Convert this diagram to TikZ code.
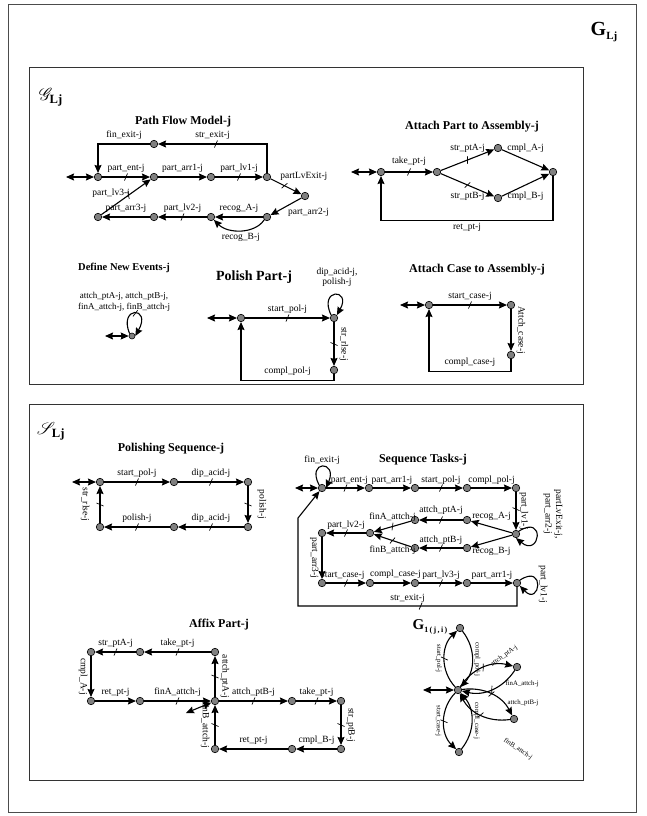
\documentclass[tikz,border=0pt]{standalone}
\usepackage{fontspec}
\setmainfont{Liberation Serif}
\usepackage{mathrsfs}
\usetikzlibrary{arrows.meta,decorations.markings}

\begin{document}
\begin{tikzpicture}[x=1pt, y=1pt,
  st/.style={circle, draw, fill=gray, line width=0.6pt, inner sep=0pt, minimum size=7.5pt},
  ev/.style={-{Stealth[length=8pt,width=7pt,inset=1pt]}, line width=1.1pt},
  ini/.style={{Stealth[length=8pt,width=7pt,inset=1pt]}-{Stealth[length=8pt,width=7pt,inset=1pt]}, line width=1.1pt},
  lb/.style={font=\fontsize{9.5}{10.5}\selectfont, inner sep=1.5pt},
  sm/.style={font=\fontsize{6.8}{7.5}\selectfont, inner sep=1pt},
  ttl/.style={font=\bfseries\fontsize{12}{14}\selectfont},
  rl/.style={lb, rotate=-90, anchor=south, inner sep=5pt},
  ll/.style={lb, rotate=-90, anchor=north, inner sep=5pt},
  ctrl/.style={postaction={decorate, decoration={markings, mark=at position #1 with {\draw[-, line width=0.7pt] (-1.5pt,-3.5pt) -- (1.5pt,3.5pt);}}}},
  ctrl/.default=0.5
]
\useasboundingbox (0,0) rectangle (646,-816);
% frames
\draw[line width=0.8pt, black!70] (8,-4) rectangle (636,-812);
\draw[line width=0.8pt, black!80] (29,-67) rectangle (583,-384);
\draw[line width=0.8pt, black!80] (29,-404) rectangle (583,-780);
\node[font=\bfseries\fontsize{20}{22}\selectfont] (glj) at (604,-32) {G\raisebox{-0.35ex}{\fontsize{11}{11}\selectfont Lj}};
\node[font=\fontsize{18}{19}\selectfont] (scg) at (51,-97) {$\mathscr{G}_{\mathbf{Lj}}$};
\node[font=\fontsize{18}{19}\selectfont] (scs) at (51,-431) {$\mathscr{S}_{\mathbf{Lj}}$};

% Path Flow Model
\node[ttl] (pftitle) at (183,-122) {Path Flow Model-j};
\node[st] (pf0) at (98,-177) {};
\node[st] (pf1) at (154,-177) {};
\node[st] (pf2) at (211,-177) {};
\node[st] (pf3) at (267,-177) {};
\node[st] (pf4) at (305,-196) {};
\node[st] (pf5) at (267,-217) {};
\node[st] (pf6) at (211,-217) {};
\node[st] (pf7) at (154,-217) {};
\node[st] (pf8) at (98,-217) {};
\node[st] (pf9) at (154,-144) {};
\coordinate (pfin) at (66,-177);
\draw[ini] (pfin) -- (pf0);
\draw[ev,ctrl] (pf0) -- node[lb,above=2pt]{part\_ent-j} (pf1);
\draw[ev] (pf1) -- node[lb,above=2pt]{part\_arr1-j} (pf2);
\draw[ev,ctrl] (pf2) -- node[lb,above=2pt]{part\_lv1-j} (pf3);
\draw[ev,ctrl=0.45] (pf3) -- node[lb,pos=0.25,above right]{partLvExit-j} (pf4);
\draw[ev] (pf4) -- node[lb,below right]{part\_arr2-j} (pf5);
\draw[ev] (pf5) -- node[lb,above=2pt]{recog\_A-j} (pf6);
\draw[ev] (pf5.south west) .. controls (255,-234) and (228,-234) .. node[lb,below=1pt]{recog\_B-j} (pf6.south east);
\draw[ev,ctrl] (pf6) -- node[lb,above=2pt]{part\_lv2-j} (pf7);
\draw[ev] (pf7) -- node[lb,above=2pt]{part\_arr3-j} (pf8);
\draw[ev,ctrl=0.55] (pf8) -- node[lb,pos=0.62,left=0pt]{part\_lv3-j} (pf1);
\draw[ev,ctrl=0.58] (pf3.north) |- node[lb,pos=0.75,above=2pt]{str\_exit-j} (pf9);
\draw[ev] (pf9) -| node[lb,pos=0.25,above=2pt]{fin\_exit-j} (pf0);

% Attach Part to Assembly
\node[ttl] (aptitle) at (472,-127) {Attach Part to Assembly-j};
\node[st] (ap0) at (381,-172) {};
\node[st] (ap1) at (437,-172) {};
\node[st] (ap2) at (498,-148) {};
\node[st] (ap3) at (498,-198) {};
\node[st] (ap4) at (553,-172) {};
\coordinate (apin) at (351,-172);
\draw[ini] (apin) -- (ap0);
\draw[ev,ctrl] (ap0) -- node[lb,above=4pt]{take\_pt-j} (ap1);
\draw[ev,ctrl] (ap1) -- node[lb,above=5pt]{str\_ptA-j} (ap2);
\draw[ev,ctrl] (ap1) -- node[lb,below=5pt]{str\_ptB-j} (ap3);
\draw[ev] (ap2) -- node[lb,above=5pt]{cmpl\_A-j} (ap4);
\draw[ev] (ap3) -- node[lb,below=5pt]{cmpl\_B-j} (ap4);
\draw[ev] (ap4.south) -- ++(0,-44) -| node[lb,pos=0.25,below=1pt]{ret\_pt-j} (ap0.south);

% Define New Events
\node[font=\bfseries\fontsize{10.5}{12}\selectfont] (dntitle) at (124,-268) {Define New Events-j};
\node[align=center, font=\fontsize{9}{10.5}\selectfont] (dnev) at (124,-302) {attch\_ptA-j, attch\_ptB-j,\\finA\_attch-j, finB\_attch-j};
\node[st, minimum size=6pt] (dn0) at (132,-336) {};
\coordinate (dnin) at (105,-336);
\draw[ini] (dnin) -- (dn0);
\draw[ev,ctrl] (dn0.north west) .. controls (118,-306) and (152,-306) .. (dn0.east);

% Polish Part
\node[font=\bfseries\fontsize{14}{16}\selectfont] (pptitle) at (254,-277) {Polish Part-j};
\node[st] (pp0) at (241,-318) {};
\node[st] (pp1) at (334,-318) {};
\node[st] (pp2) at (334,-370) {};
\coordinate (ppin) at (207,-318);
\draw[ini] (ppin) -- (pp0);
\draw[ev,ctrl] (pp0) -- node[lb,above=2pt]{start\_pol-j} (pp1);
\draw[ev] (pp1.north west) .. controls (318,-288) and (352,-288) .. (pp1.north east);
\node[lb, align=center] (pploop) at (337,-277) {dip\_acid-j,\\polish-j};
\draw[ev,ctrl] (pp1) -- node[rl]{str\_rlse-j} (pp2);
\draw[ev] (pp2.south) -- ++(0,-6) -| node[lb,pos=0.25,above=2pt]{compl\_pol-j} (pp0);

% Attach Case to Assembly
\node[ttl] (actitle) at (477,-270) {Attach Case to Assembly-j};
\node[st] (ac0) at (429,-305) {};
\node[st] (ac1) at (511,-305) {};
\node[st] (ac2) at (511,-355) {};
\coordinate (acin) at (400,-305);
\draw[ini] (acin) -- (ac0);
\draw[ev,ctrl] (ac0) -- node[lb,above=2pt]{start\_case-j} (ac1);
\draw[ev] (ac1) -- node[rl]{Attch\_case-j} (ac2);
\draw[ev] (ac2.south) -- ++(0,-12) -| node[lb,pos=0.25,above=2pt]{compl\_case-j} (ac0);

% Polishing Sequence
\node[ttl] (pstitle) at (171,-449) {Polishing Sequence-j};
\node[st] (ps0) at (100,-482) {};
\node[st] (ps1) at (174,-482) {};
\node[st] (ps2) at (248,-482) {};
\node[st] (ps3) at (248,-527) {};
\node[st] (ps4) at (174,-527) {};
\node[st] (ps5) at (100,-527) {};
\coordinate (psin) at (72,-482);
\draw[ini] (psin) -- (ps0);
\draw[ev,ctrl] (ps0) -- node[lb,above=2pt]{start\_pol-j} (ps1);
\draw[ev,ctrl] (ps1) -- node[lb,above=2pt]{dip\_acid-j} (ps2);
\draw[ev,ctrl] (ps2) -- node[rl,inner sep=9pt]{polish-j} (ps3);
\draw[ev,ctrl] (ps3) -- node[lb,above=2pt]{dip\_acid-j} (ps4);
\draw[ev,ctrl] (ps4) -- node[lb,above=2pt]{polish-j} (ps5);
\draw[ev,ctrl] (ps5) -- node[ll,inner sep=10pt]{str\_rlse-j} (ps0);

% Sequence Tasks
\node[ttl] (sttitle) at (423,-460) {Sequence Tasks-j};
\node[st] (st0) at (322,-488) {};
\node[st] (st1) at (369,-488) {};
\node[st] (st2) at (415,-488) {};
\node[st] (st3) at (467,-488) {};
\node[st] (st4) at (516,-488) {};
\node[st] (st5) at (516,-534) {};
\node[st] (st6) at (467,-520) {};
\node[st] (st7) at (415,-520) {};
\node[st] (st8) at (467,-548) {};
\node[st] (st9) at (415,-548) {};
\node[st] (st10) at (370,-533) {};
\node[st] (st11) at (322,-533) {};
\node[st] (st12) at (322,-583) {};
\node[st] (st13) at (370,-583) {};
\node[st] (st14) at (415,-583) {};
\node[st] (st15) at (467,-583) {};
\node[st] (st16) at (517,-583) {};
\coordinate (stin) at (295,-488);
\coordinate (stc1) at (298,-606);
\coordinate (stc2) at (298,-518);
\draw[ini] (stin) -- (st0);
\draw[ev] (st0.north west) .. controls (306,-460) and (338,-460) .. node[lb,above=0pt]{fin\_exit-j} (st0.east);
\draw[ev,ctrl] (st0) -- node[lb,pos=0.6,above=1pt]{part\_ent-j} (st1);
\draw[ev] (st1) -- node[lb,above=1pt]{part\_arr1-j} (st2);
\draw[ev,ctrl] (st2) -- node[lb,above=1pt]{start\_pol-j} (st3);
\draw[ev] (st3) -- node[lb,above=1pt]{compl\_pol-j} (st4);
\draw[ev,ctrl=0.45] (st4) -- node[rl,inner sep=3pt]{part\_lv1-j} (st5);
\draw[ev] (st5.north east) .. controls (546,-514) and (540,-558) .. (st5.south);
\node[lb, rotate=-90, align=center, inner sep=0pt] (st5lab) at (553,-514) {partLvExit-j,\\part\_arr2-j};
\draw[ev] (st5) -- node[lb,above=4pt]{recog\_A-j} (st6);
\draw[ev] (st5) -- node[lb,below=4pt]{recog\_B-j} (st8);
\draw[ev,ctrl] (st6) -- node[lb,above=3pt]{attch\_ptA-j} (st7);
\draw[ev,ctrl] (st8) -- node[lb,above=1pt]{attch\_ptB-j} (st9);
\draw[ev,ctrl] (st7) -- node[lb,above=3pt]{finA\_attch-j} (st10);
\draw[ev,ctrl] (st9) -- node[lb,below=3pt]{finB\_attch-j} (st10);
\draw[ev,ctrl] (st10) -- node[lb,above=1pt]{part\_lv2-j} (st11);
\draw[ev] (st11) -- node[ll,inner sep=3pt]{part\_arr3-j} (st12);
\draw[ev,ctrl] (st12) -- node[lb,pos=0.42,above=1pt]{start\_case-j} (st13);
\draw[ev] (st13) -- node[lb,pos=0.58,above=2pt]{compl\_case-j} (st14);
\draw[ev,ctrl] (st14) -- node[lb,above=1pt]{part\_lv3-j} (st15);
\draw[ev] (st15) -- node[lb,above=1pt]{part\_arr1-j} (st16);
\draw[ev] (st16.north east) .. controls (546,-563) and (540,-607) .. node[rl,inner sep=1pt]{part\_lv1-j} (st16.south east);
\draw[ev,ctrl=0.32] (st16.south) |- node[lb,pos=0.75,above=1pt]{str\_exit-j} (stc1) -- (stc2) -- (st0);

% Affix Part
\node[ttl] (aftitle) at (219,-625) {Affix Part-j};
\node[st] (af0) at (91,-652) {};
\node[st] (af1) at (140,-652) {};
\node[st] (af2) at (215,-652) {};
\node[st] (af3) at (91,-701) {};
\node[st] (af4) at (140,-701) {};
\node[st] (afh) at (215,-701) {};
\node[st] (af5) at (292,-701) {};
\node[st] (af6) at (341,-701) {};
\node[st] (af7) at (341,-749) {};
\node[st] (af8) at (292,-749) {};
\node[st] (af9) at (215,-749) {};
\coordinate (afin) at (186,-713);
\draw[ini] (afin) -- (afh);
\draw[ev,ctrl] (afh) -- node[rl]{attch\_ptA-j} (af2);
\draw[ev,ctrl] (af2) -- node[lb,above=2pt]{take\_pt-j} (af1);
\draw[ev,ctrl] (af1) -- node[lb,above=2pt]{str\_ptA-j} (af0);
\draw[ev] (af0) -- node[ll,inner sep=3pt]{cmpl\_A-j} (af3);
\draw[ev] (af3) -- node[lb,above=2pt]{ret\_pt-j} (af4);
\draw[ev,ctrl] (af4) -- node[lb,above=2pt]{finA\_attch-j} (afh);
\draw[ev,ctrl] (afh) -- node[lb,above=2pt]{attch\_ptB-j} (af5);
\draw[ev,ctrl] (af5) -- node[lb,above=2pt]{take\_pt-j} (af6);
\draw[ev,ctrl] (af6) -- node[rl]{str\_ptB-j} (af7);
\draw[ev] (af7) -- node[lb,above=2pt]{cmpl\_B-j} (af8);
\draw[ev] (af8) -- node[lb,above=2pt]{ret\_pt-j} (af9);
\draw[ev,ctrl] (af9) -- node[ll]{finB\_attch-j} (afh);

% G_1(j,i)
\node[font=\bfseries\fontsize{15}{16}\selectfont] (g1lab) at (430,-627) {G\raisebox{-0.4ex}{\fontsize{8}{8}\selectfont 1\,(\,j\,,\,i\,)}};
\node[st] (gh) at (458,-690) {};
\node[st] (gt) at (460,-628) {};
\node[st] (gr1) at (517,-667) {};
\node[st] (gr2) at (514,-719) {};
\node[st] (gb) at (459,-752) {};
\coordinate (gin) at (423,-690);
\draw[ini] (gin) -- (gh);
\draw[ev,ctrl] (gh) to[bend left=45] node[sm,rotate=-90,anchor=north,inner sep=2pt]{start\_pol-j} (gt);
\draw[ev] (gt) to[bend left=40] node[sm,rotate=-90,anchor=south,inner sep=1.5pt]{compl\_pol-j} (gh);
\draw[ev,ctrl] (gh) to[bend left=35] (gr1);
\node[sm, rotate=35, inner sep=0pt] (gatta) at (504,-656) {attch\_ptA-j};
\draw[ev,ctrl] (gr1) to[bend left=35] node[sm,pos=0.3,anchor=west,inner sep=3pt]{finA\_attch-j} (gh);
\draw[ev,ctrl] (gh) to[bend left=35] node[sm,pos=0.75,anchor=west,inner sep=4pt]{attch\_ptB-j} (gr2);
\draw[ev,ctrl] (gr2) to[bend left=35] (gh);
\node[sm, rotate=-34, inner sep=0pt] (gfinb) at (518,-749) {finB\_attch-j};
\draw[ev,ctrl] (gh) to[bend right=45] node[sm,rotate=-90,anchor=north,inner sep=2pt]{start\_case-j} (gb);
\draw[ev] (gb) to[bend right=40] node[sm,rotate=-90,anchor=south,inner sep=1.5pt]{compl\_case-j} (gh);
\end{tikzpicture}
\end{document}
